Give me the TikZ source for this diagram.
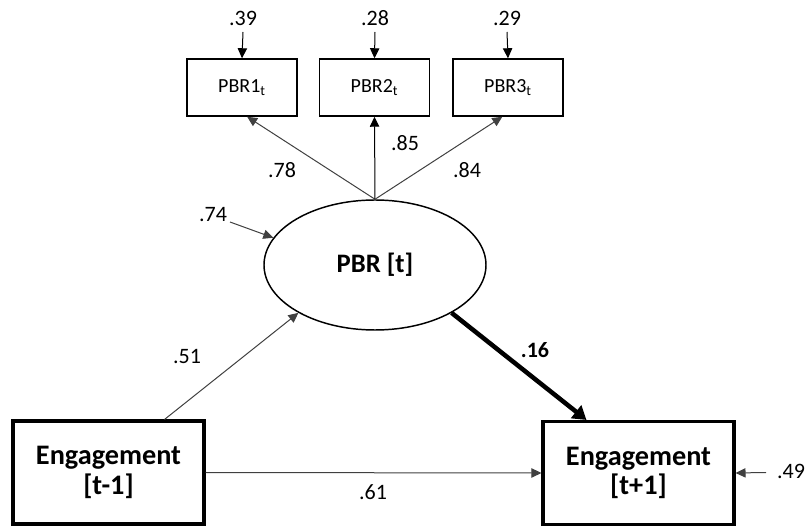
\documentclass[tikz,border=0pt]{standalone}
\usepackage{fontspec}
\setmainfont{Carlito}
\usetikzlibrary{arrows.meta,shapes.geometric,calc}
\definecolor{ln}{HTML}{404040}
\begin{document}
\begin{tikzpicture}[x=0.75pt,y=-0.75pt,
  indbox/.style={draw,line width=1.1pt,minimum width=82.5pt,minimum height=42.75pt,
    inner sep=0pt,font=\fontsize{15}{17}\selectfont},
  latent/.style={ellipse,draw,line width=1.1pt,minimum width=166.5pt,minimum height=97.5pt,
    inner sep=0pt,font=\fontsize{20}{24}\selectfont\bfseries},
  obsbox/.style={draw,line width=2.3pt,minimum width=143.25pt,minimum height=77.25pt,
    inner sep=0pt,align=center,font=\fontsize{21.2}{24}\selectfont\bfseries},
  coef/.style={inner sep=0pt,font=\fontsize{16.5}{18}\selectfont},
  path/.style={draw=ln,line width=0.75pt,-{Triangle[length=7.5pt,width=7pt]}},
  strong/.style={draw=black,line width=3.4pt,-{Triangle[length=10pt,width=12pt]}}]
\useasboundingbox (0,0) rectangle (808,527);

% indicators
\node[indbox] (p1) at (242,87.5) {PBR1\textsubscript{t}};
\node[indbox] (p2) at (374.5,87.5) {PBR2\textsubscript{t}};
\node[indbox] (p3) at (508,87.5) {PBR3\textsubscript{t}};

% latent factor and observed variables
\node[latent] (pbr) at (375,265) {PBR [t]};
\node[obsbox] (e1) at (108.5,472.5) {Engagement\\[-2pt][t-1]};
\node[obsbox] (e2) at (638.5,473) {Engagement\\[-2pt][t+1]};

% residual labels and arrow starts
\node[coef] (r1) at (243,18) {.39};
\node[coef] (r2) at (375,18) {.28};
\node[coef] (r3) at (507,18) {.29};
\coordinate (r1s) at (243,32);
\coordinate (r2s) at (375,32);
\coordinate (r3s) at (507,32);
\node[coef] (rl) at (213,215) {.74};
\coordinate (rls) at (230,222);
\node[coef] (re) at (791,471) {.49};
\coordinate (res) at (766,472.5);

\draw[path,draw=black] (r1s) -- (p1.north);
\draw[path,draw=black] (r2s) -- (p2.north);
\draw[path,draw=black] (r3s) -- (p3.north);
\draw[path] (rls) -- (pbr.165);
\draw[path] (res) -- (e2.east);

% loadings
\draw[path] (pbr.north) -- (p1.-80);
\draw[path,draw=black] (pbr.north) -- (p2.south);
\draw[path] (pbr.north) -- (p3.-101);
\node[coef] (l1) at (282,170) {.78};
\node[coef] (l2) at (405,143) {.85};
\node[coef] (l3) at (467,170) {.84};

% structural paths
\draw[path] ($(e1.north)+(56,0)$) -- (pbr.212);
\node[coef] (b1) at (187,357) {.51};
\draw[strong] (pbr.-32) -- ($(e2.north)+(-52,0)$);
\node[coef,font=\fontsize{16.5}{18}\selectfont\bfseries] (b2) at (535,350) {.16};
\draw[path] (e1.east) -- (e2.west);
\node[coef] (b3) at (373,492) {.61};
\end{tikzpicture}
\end{document}
